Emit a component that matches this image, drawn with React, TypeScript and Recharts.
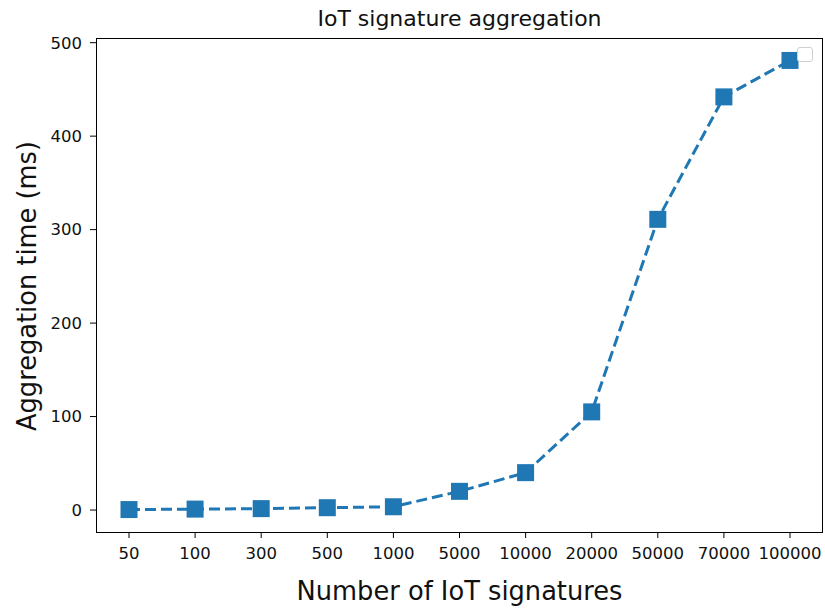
import React from 'react';
import { LineChart, Line, XAxis, YAxis } from 'recharts';

const signatureCounts = ['50', '100', '300', '500', '1000', '5000', '10000', '20000', '50000', '70000', '100000'];
const aggregationTimes = [0.5, 1, 1.5, 2.5, 3.5, 20, 40, 105, 311, 442, 481];
const yTicks = [0, 100, 200, 300, 400, 500];

const data = signatureCounts.map((count, i) => ({ count, time: aggregationTimes[i] }));

const FONT = '"DejaVu Sans", sans-serif';
const BLUE = '#1f77b4';
const INK = '#111';

function SquareDot(props: any) {
    const { cx, cy } = props;
    if (cx == null || cy == null) return null;
    return <rect x={cx - 8.5} y={cy - 8.5} width={17} height={17} fill={BLUE} />;
}

export default function App() {
    return (
        <div style={{ position: 'absolute', left: 0, top: 0, width: 825, height: 610, background: '#fff', fontFamily: FONT, color: INK }}>
            <LineChart
                width={825}
                height={610}
                data={data}
                margin={{ top: 38, right: 2, left: 40, bottom: 48 }}
                style={{ position: 'absolute', left: 0, top: 0 }}
            >
                <XAxis
                    dataKey="count"
                    padding={{ left: 33, right: 33 }}
                    height={30}
                    tick={{ fill: INK, fontSize: 16.5, fontFamily: FONT }}
                    tickLine={{ stroke: '#000' }}
                    tickSize={6}
                    tickMargin={9}
                    axisLine={false}
                    interval={0}
                />
                <YAxis
                    domain={[-23.5, 505]}
                    ticks={yTicks}
                    width={56}
                    tick={{ fill: INK, fontSize: 16.5, fontFamily: FONT }}
                    tickLine={{ stroke: '#000' }}
                    tickSize={6}
                    tickMargin={8}
                    axisLine={false}
                    allowDataOverflow
                />
                <Line
                    type="linear"
                    dataKey="time"
                    stroke={BLUE}
                    strokeWidth={3}
                    strokeDasharray="11 5"
                    dot={<SquareDot />}
                    activeDot={false}
                    isAnimationActive={false}
                />
            </LineChart>
            {/* plot frame */}
            <div
                style={{
                    position: 'absolute',
                    left: 96,
                    top: 38,
                    width: 727,
                    height: 495,
                    boxSizing: 'border-box',
                    border: '1px solid #000',
                    pointerEvents: 'none',
                }}
            />
            {/* empty legend */}
            <div
                style={{
                    position: 'absolute',
                    left: 797,
                    top: 47,
                    width: 16,
                    height: 15,
                    boxSizing: 'border-box',
                    border: '1px solid #cfcfcf',
                    borderRadius: 3,
                    background: '#fff',
                }}
            />
            <div
                style={{
                    position: 'absolute',
                    top: 8,
                    left: 96,
                    width: 727,
                    textAlign: 'center',
                    fontSize: 22,
                    lineHeight: 1,
                    whiteSpace: 'nowrap',
                }}
            >
                IoT signature aggregation
            </div>
            <div
                style={{
                    position: 'absolute',
                    top: 579,
                    left: 96,
                    width: 727,
                    textAlign: 'center',
                    fontSize: 25.7,
                    lineHeight: 1,
                    whiteSpace: 'nowrap',
                }}
            >
                Number of IoT signatures
            </div>
            <div
                style={{
                    position: 'absolute',
                    left: 28,
                    top: 286,
                    transform: 'translate(-50%, -50%) rotate(-90deg)',
                    whiteSpace: 'nowrap',
                    fontSize: 25.7,
                    lineHeight: 1,
                }}
            >
                Aggregation time (ms)
            </div>
        </div>
    );
}
